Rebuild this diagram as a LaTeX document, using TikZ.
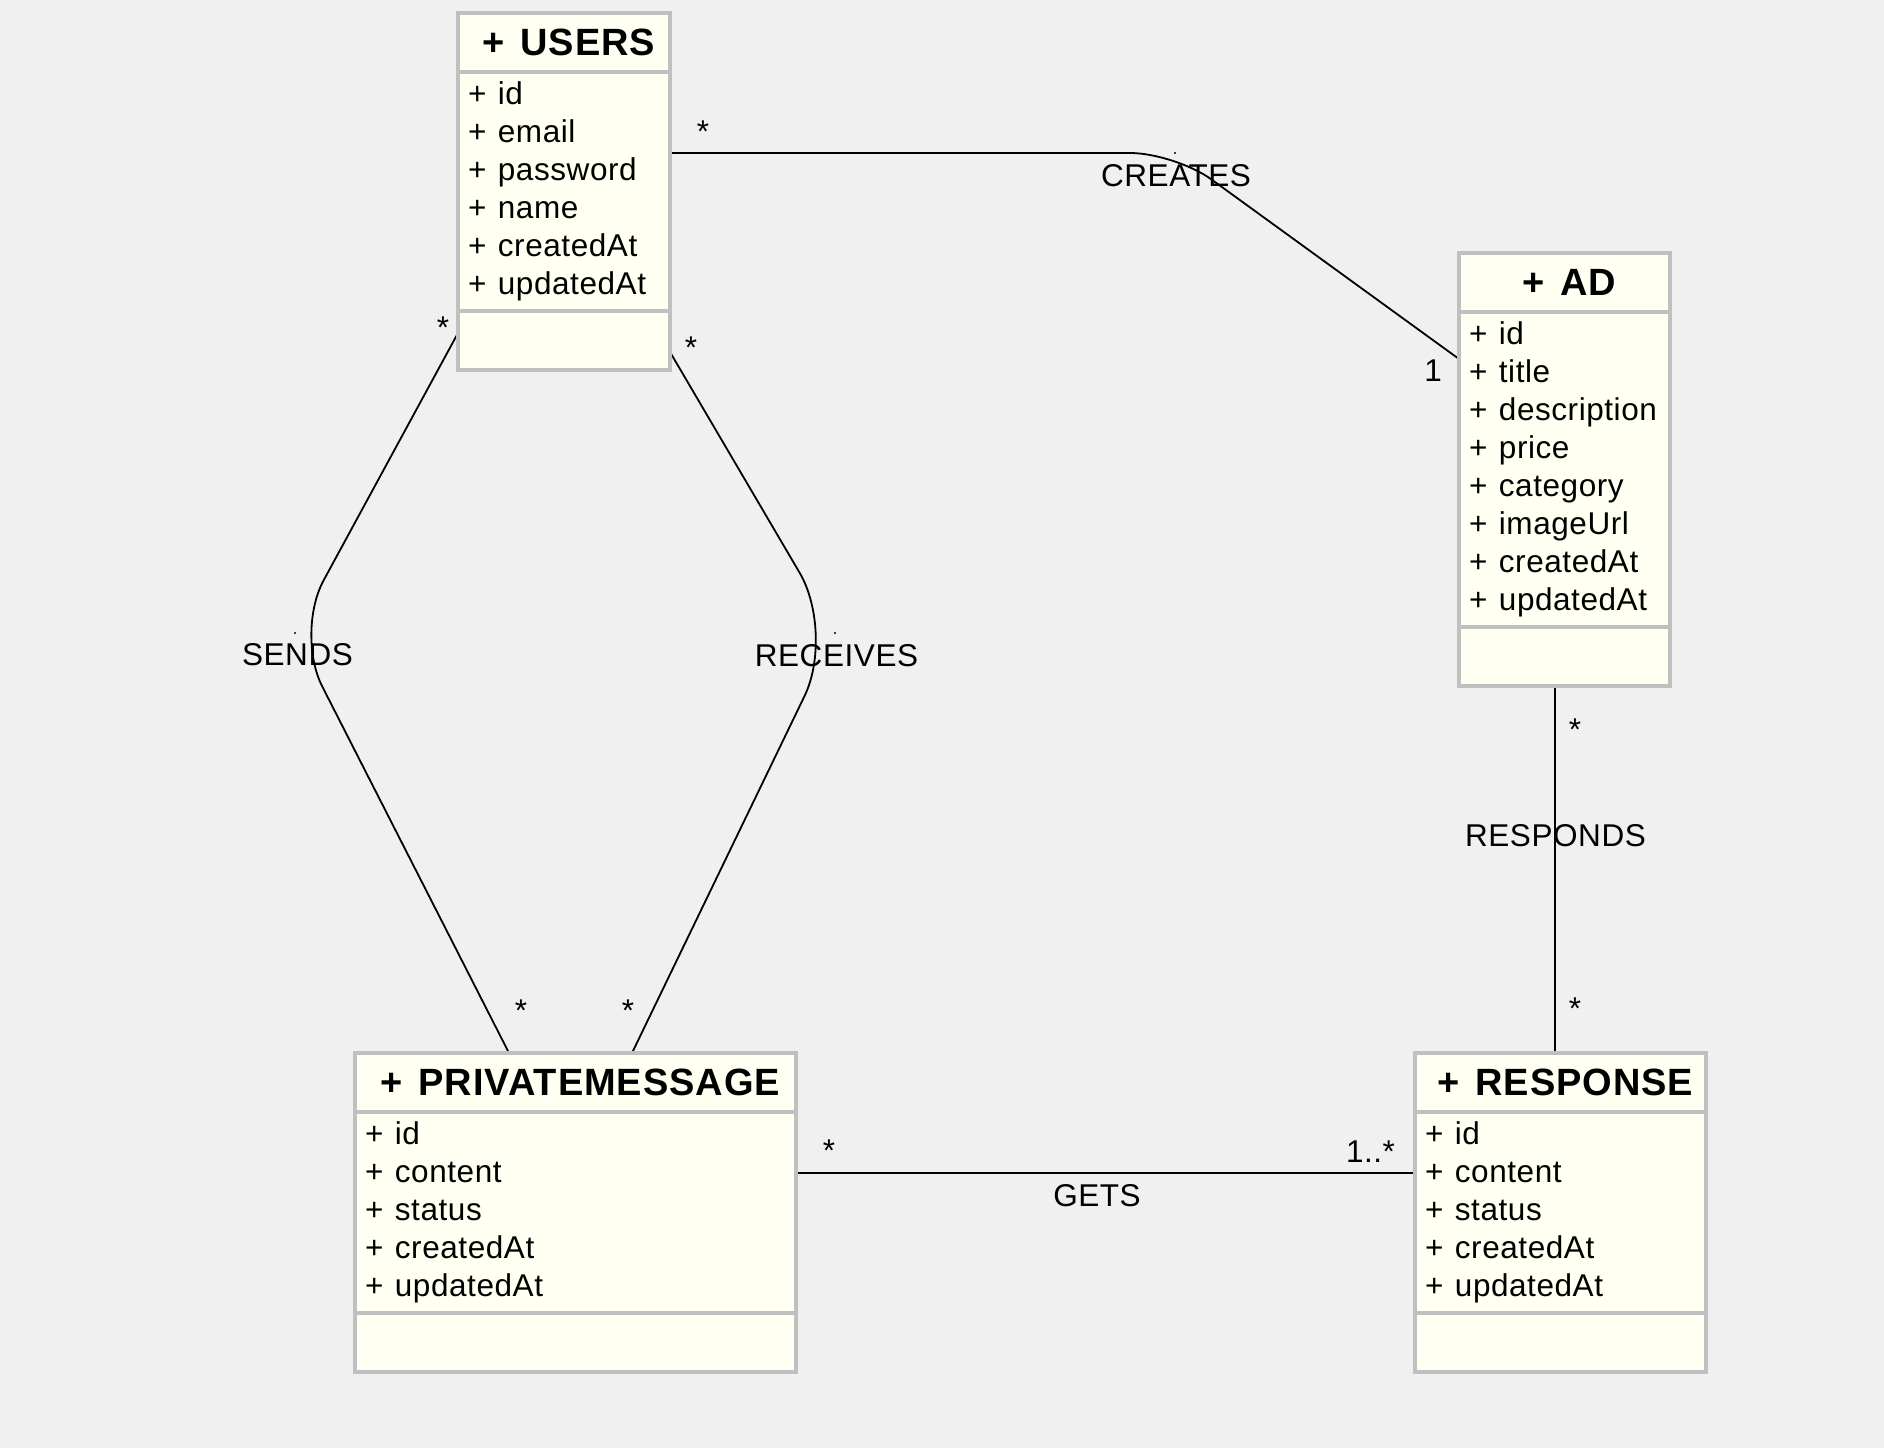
\documentclass[tikz,border=0pt]{standalone}
\usepackage{fontspec}
\setmainfont{Liberation Sans}
\usetikzlibrary{positioning}

\definecolor{canvasgray}{HTML}{F0F0F0}
\definecolor{classfill}{HTML}{FFFFF2}
\definecolor{classedge}{HTML}{C0C0C0}

\newcommand{\attrsize}{\fontsize{31.5}{38}\selectfont\addfontfeature{LetterSpace=1.8}}
\newcommand{\titlesize}{\fontsize{38}{44}\selectfont\bfseries\addfontfeature{LetterSpace=2.5}}

\pgfdeclarelayer{canvas}
\pgfdeclarelayer{links}
\pgfsetlayers{canvas,links,main}

\tikzset{
  classpart/.style={draw=classedge, fill=classfill, line width=4pt, inner sep=0pt, outer sep=0pt},
  classtitle/.style={classpart, minimum height=59pt, anchor=north west, font=\titlesize,
    execute at begin node={\hspace*{10pt}}},
  attrline/.style={anchor=base west, inner sep=0pt, font=\attrsize},
  assoc/.style={line width=1.8pt, black},
  assoclabel/.style={anchor=base, inner sep=0pt, font=\attrsize},
  multlabel/.style={anchor=base, inner sep=0pt, font=\attrsize},
}

\begin{document}
\begin{tikzpicture}[x=1pt,y=-1pt]
\useasboundingbox (0,0) rectangle (1884,1448);
\begin{pgfonlayer}{canvas}
\fill[canvasgray] (0,0) rectangle (1884,1448);
\end{pgfonlayer}

% USERS
\node[classtitle, minimum width=212pt] (users) at (458,13) {+\kern4pt\ USERS};
\node[classpart, minimum width=212pt, minimum height=239pt, below=0pt of users] (users-attr) {};
\node[classpart, minimum width=212pt, minimum height=59pt, below=0pt of users-attr] (users-ops) {};
\foreach \a [count=\i] in {id,email,password,name,createdAt,updatedAt} {
\node[attrline] (users-a\i) at ([shift={(10,{32+38*(\i-1)})}]users-attr.north west) {+\kern2pt\ \a};
}

% AD
\node[classtitle, minimum width=211pt] (ad) at (1459,253) {+\kern4pt\ AD};
\node[classpart, minimum width=211pt, minimum height=315pt, below=0pt of ad] (ad-attr) {};
\node[classpart, minimum width=211pt, minimum height=59pt, below=0pt of ad-attr] (ad-ops) {};
\foreach \a [count=\i] in {id,title,description,price,category,imageUrl,createdAt,updatedAt} {
\node[attrline] (ad-a\i) at ([shift={(10,{32+38*(\i-1)})}]ad-attr.north west) {+\kern2pt\ \a};
}

% PRIVATEMESSAGE
\node[classtitle, minimum width=441pt] (pm) at (355,1053) {+\kern4pt\ PRIVATEMESSAGE};
\node[classpart, minimum width=441pt, minimum height=201pt, below=0pt of pm] (pm-attr) {};
\node[classpart, minimum width=441pt, minimum height=59pt, below=0pt of pm-attr] (pm-ops) {};
\foreach \a [count=\i] in {id,content,status,createdAt,updatedAt} {
\node[attrline] (pm-a\i) at ([shift={(10,{32+38*(\i-1)})}]pm-attr.north west) {+\kern2pt\ \a};
}

% RESPONSE
\node[classtitle, minimum width=291pt] (response) at (1415,1053) {+\kern4pt\ RESPONSE};
\node[classpart, minimum width=291pt, minimum height=201pt, below=0pt of response] (response-attr) {};
\node[classpart, minimum width=291pt, minimum height=59pt, below=0pt of response-attr] (response-ops) {};
\foreach \a [count=\i] in {id,content,status,createdAt,updatedAt} {
\node[attrline] (response-a\i) at ([shift={(10,{32+38*(\i-1)})}]response-attr.north west) {+\kern2pt\ \a};
}

\coordinate (createsbend) at (1175,153);
\coordinate (sendsbend) at (295,633);
\coordinate (receivesbend) at (835,633);
\coordinate (respondsfoot) at ([shift={(140,0)}]response.north west);
\coordinate (getsstart) at ([shift={(0,61)}]pm-attr.north east);

\begin{pgfonlayer}{links}
\draw[assoc, rounded corners=45pt] ([shift={(0,81)}]users-attr.north east) -- (createsbend) -- ([shift={(0,47)}]ad-attr.north west);
\draw[assoc, rounded corners=60pt] ([shift={(0,22)}]users-ops.north west) -- (sendsbend) -- ([shift={(154,0)}]pm.north west);
\draw[assoc, rounded corners=70pt] ([shift={(0,41)}]users-ops.north east) -- (receivesbend) -- ([shift={(277,0)}]pm.north west);
\draw[assoc] (respondsfoot) -- (respondsfoot |- ad-ops.south);
\draw[assoc] (getsstart) -- (getsstart -| response-attr.west);
\end{pgfonlayer}

\foreach \p in {createsbend,sendsbend,receivesbend} {
\fill (\p) circle (1.1pt);
}

% association names
\node[assoclabel] (creates) at (1176,186) {CREATES};
\node[assoclabel] (sends) at (297.5,665) {SENDS};
\node[assoclabel] (receives) at (836.5,666) {RECEIVES};
\node[assoclabel] (responds) at (1555.5,846) {RESPONDS};
\node[assoclabel] (gets) at (1097,1206) {GETS};

% multiplicities
\node[multlabel] (m-creates-u) at (703,142) {*};
\node[multlabel] (m-creates-a) at (1433,381) {1};
\node[multlabel] (m-sends-u) at (443,338) {*};
\node[multlabel] (m-sends-p) at (521,1021) {*};
\node[multlabel] (m-receives-u) at (691,358) {*};
\node[multlabel] (m-receives-p) at (628,1021) {*};
\node[multlabel] (m-responds-a) at (1575,740) {*};
\node[multlabel] (m-responds-r) at (1575,1019) {*};
\node[multlabel] (m-gets-p) at (829,1161) {*};
\node[multlabel] (m-gets-r) at (1370.5,1162) {1..*};
\end{tikzpicture}
\end{document}
